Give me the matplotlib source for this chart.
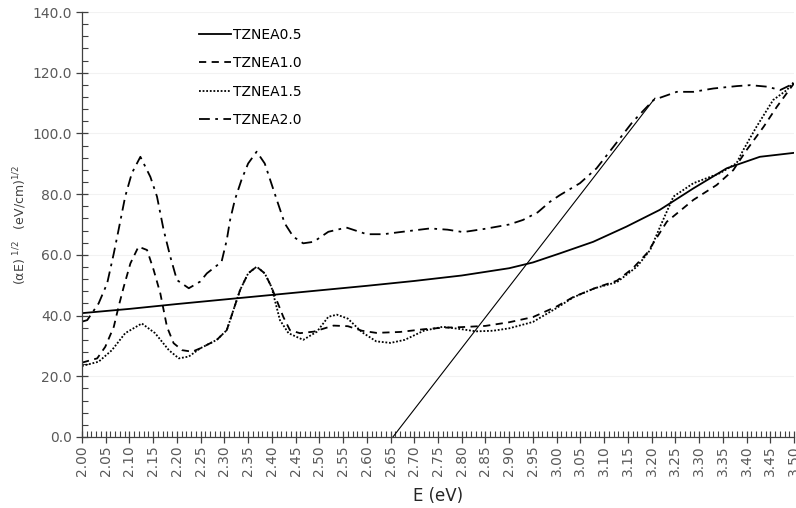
import numpy as np
import matplotlib
matplotlib.use("Agg")
import matplotlib.pyplot as plt
from matplotlib.ticker import MultipleLocator, FormatStrFormatter

# TZNEA0.5 (solid)
e_05 = [2.00, 2.10, 2.20, 2.30, 2.40, 2.50, 2.60, 2.70, 2.80, 2.90, 2.95,
        3.007, 3.077, 3.147, 3.217, 3.288, 3.358, 3.428, 3.50]
a_05 = [40.8, 42.2, 43.8, 45.3, 46.8, 48.3, 49.8, 51.4, 53.2, 55.6, 57.5,
        60.5, 64.3, 69.3, 74.8, 81.9, 88.5, 92.3, 93.6]

# TZNEA1.0 (dashed)
e_10 = [2.00, 2.032, 2.049, 2.067, 2.077, 2.088, 2.102, 2.119, 2.137, 2.151,
        2.165, 2.179, 2.193, 2.211, 2.232, 2.249, 2.284, 2.305, 2.319, 2.333,
        2.350, 2.368, 2.385, 2.399, 2.41, 2.424, 2.438, 2.459, 2.488, 2.53,
        2.56, 2.59, 2.62, 2.67, 2.72, 2.76, 2.80, 2.85, 2.90, 2.95, 3.00,
        3.035, 3.08, 3.127, 3.16, 3.19, 3.232, 3.288, 3.337, 3.372, 3.40,
        3.436, 3.464, 3.50]
a_10 = [24.5, 25.9, 29.7, 36.3, 42.9, 49.5, 57.2, 62.7, 61.6, 55.0,
        47.3, 36.3, 30.9, 28.6, 28.1, 29.2, 32.0, 35.2, 41.8, 48.4,
        53.9, 56.1, 53.9, 49.5, 45.1, 39.6, 35.2, 34.2, 34.7, 36.7,
        36.5, 35.0, 34.3, 34.6, 35.5, 36.0, 36.2, 36.6, 37.8, 39.5, 43.0,
        46.1, 49.0, 51.5, 55.5, 60.5, 70.9, 78.1, 83.0, 87.9, 94.5,
        102.2, 108.8, 116.5]

# TZNEA1.5 (dotted)
e_15 = [2.00, 2.035, 2.063, 2.091, 2.126, 2.154, 2.183, 2.204, 2.225, 2.249,
        2.284, 2.305, 2.319, 2.333, 2.350, 2.368, 2.385, 2.399, 2.417, 2.435,
        2.466, 2.495, 2.519, 2.537, 2.56, 2.59, 2.62, 2.65, 2.68, 2.72,
        2.76, 2.80, 2.83, 2.866, 2.90, 2.95, 3.00, 3.035, 3.08, 3.127,
        3.169, 3.197, 3.218, 3.246, 3.288, 3.344, 3.379, 3.393, 3.421, 3.456,
        3.485, 3.50]
a_15 = [23.4, 24.8, 28.6, 34.2, 37.4, 34.2, 28.6, 25.9, 26.5, 29.2,
        32.0, 35.2, 41.8, 48.4, 53.9, 56.1, 53.9, 49.5, 38.5, 34.2,
        32.0, 34.7, 39.6, 40.3, 39.0, 34.5, 31.5, 31.0, 32.0, 35.0,
        36.3, 35.5, 34.8, 35.0, 35.8, 37.9, 42.5, 46.0, 49.0, 51.0,
        56.1, 61.6, 69.3, 79.2, 83.6, 86.9, 90.2, 94.5, 102.2, 111.0,
        114.3, 117.0]

# TZNEA2.0 (dash-dot)
e_20 = [2.00, 2.011, 2.035, 2.053, 2.067, 2.077, 2.091, 2.105, 2.123, 2.144,
        2.158, 2.172, 2.186, 2.20, 2.225, 2.249, 2.263, 2.294, 2.305, 2.312,
        2.322, 2.336, 2.350, 2.368, 2.385, 2.399, 2.413, 2.427, 2.445, 2.466,
        2.488, 2.519, 2.557, 2.60, 2.635, 2.67, 2.733, 2.77, 2.803, 2.85,
        2.90, 2.929, 2.96, 2.986, 3.007, 3.049, 3.084, 3.12, 3.16, 3.204,
        3.253, 3.288, 3.330, 3.380, 3.408, 3.443, 3.471, 3.50]
a_20 = [38.0, 38.5, 44.0, 50.6, 60.5, 68.2, 79.2, 86.9, 92.3, 85.7,
        79.2, 68.2, 59.4, 51.7, 49.0, 51.2, 53.9, 57.7, 64.9, 71.5,
        78.1, 84.7, 90.1, 94.0, 90.1, 83.5, 76.9, 70.4, 66.0, 63.8,
        64.3, 67.6, 69.0, 66.8, 66.8, 67.5, 68.7, 68.3, 67.5, 68.6,
        70.0, 71.5, 74.0, 77.5, 79.7, 83.6, 88.5, 95.7, 103.8, 111.0,
        113.7, 113.7, 114.8, 115.6, 115.9, 115.4, 114.3, 116.5]

# tangent line for band gap extrapolation
tan_e = [2.655, 3.207]
tan_a = [0.0, 111.6]

plt.rcParams['font.family'] = ['DejaVu Sans']

fig = plt.figure(figsize=(7.96, 5.08), dpi=100)
ax = fig.add_axes([82 / 796, 71 / 508, 712 / 796, 425 / 508])

lw = 1.3
ax.plot(e_05, a_05, color='black', lw=lw, ls='-', label='TZNEA0.5')
ax.plot(e_10, a_10, color='black', lw=lw, ls=(0, (4, 3)), label='TZNEA1.0')
ax.plot(e_15, a_15, color='black', lw=lw, ls=(0, (1, 1)), label='TZNEA1.5')
ax.plot(e_20, a_20, color='black', lw=lw, ls=(0, (6, 3, 1.5, 3)), label='TZNEA2.0')
ax.plot(tan_e, tan_a, color='black', lw=0.8)

ax.set_xlim(2.0, 3.5)
ax.set_ylim(0, 140)

ax.xaxis.set_major_locator(MultipleLocator(0.05))
ax.xaxis.set_minor_locator(MultipleLocator(0.01))
ax.yaxis.set_major_locator(MultipleLocator(20))
ax.yaxis.set_minor_locator(MultipleLocator(4))
ax.xaxis.set_major_formatter(FormatStrFormatter('%.2f'))
ax.yaxis.set_major_formatter(FormatStrFormatter('%.1f'))

for s in ['top', 'right']:
    ax.spines[s].set_visible(False)
for s in ['left', 'bottom']:
    ax.spines[s].set_color('#404040')
    ax.spines[s].set_linewidth(0.9)

ax.tick_params(axis='both', which='major', direction='inout', length=8,
               width=0.9, color='#404040', labelsize=10, labelcolor='#595959')
ax.tick_params(axis='both', which='minor', direction='in', length=4,
               width=0.8, color='#404040')
ax.tick_params(axis='x', which='major', labelrotation=90, pad=2)

ax.yaxis.grid(True, which='major', color='#f2f2f2', lw=0.8)
ax.set_axisbelow(True)

ax.set_xlabel('E (eV)', fontsize=12, color='#262626')
ax.xaxis.set_label_coords(0.5, -0.118)
ax.set_ylabel(r'(αE) $^{1/2}$   (eV/cm)$^{1/2}$', fontsize=9, color='#404040')
ax.yaxis.set_label_coords(-0.0745, 0.5)

ax.legend(loc='upper left', bbox_to_anchor=(0.156, 0.976), frameon=False,
          fontsize=10, handlelength=2.3, handletextpad=0.2, labelspacing=1.04,
          borderaxespad=0)

fig.savefig('out.png', dpi=100)
